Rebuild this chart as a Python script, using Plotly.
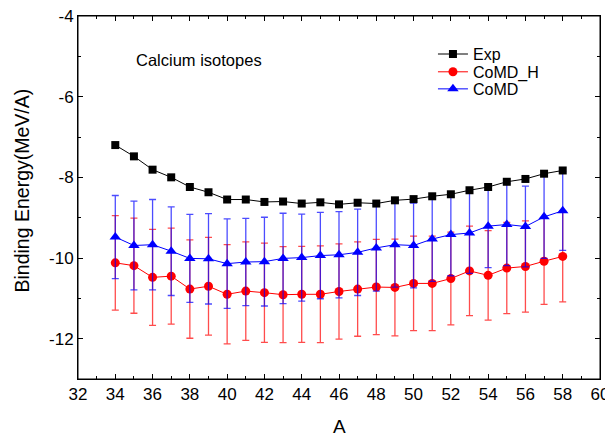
import plotly.graph_objects as go

A = list(range(34, 59))
exp_be = [-7.20, -7.48, -7.81, -8.00, -8.24, -8.37, -8.55, -8.55, -8.61, -8.60, -8.65, -8.62, -8.67,
          -8.63, -8.65, -8.57, -8.54, -8.47, -8.42, -8.32, -8.24, -8.11, -8.04, -7.91, -7.83]
comd_h_be = [-10.12, -10.19, -10.48, -10.45, -10.77, -10.70, -10.90, -10.82, -10.86, -10.91, -10.90, -10.90, -10.83,
             -10.77, -10.72, -10.73, -10.63, -10.63, -10.51, -10.32, -10.43, -10.25, -10.21, -10.08, -9.96]
comd_h_err = [1.17, 1.18, 1.19, 1.19, 1.22, 1.21, 1.23, 1.22, 1.23, 1.19, 1.19, 1.20, 1.18,
              1.17, 1.18, 1.20, 1.17, 1.17, 1.15, 1.11, 1.11, 1.13, 1.13, 1.07, 1.13]
comd_be = [-9.48, -9.69, -9.67, -9.83, -10.01, -10.02, -10.14, -10.10, -10.09, -10.01, -9.99, -9.94, -9.92,
           -9.86, -9.75, -9.67, -9.69, -9.53, -9.42, -9.38, -9.21, -9.17, -9.22, -8.98, -8.83]
comd_err = [1.03, 1.10, 1.12, 1.10, 1.09, 1.12, 1.11, 1.08, 1.10, 1.12, 1.08, 1.07, 1.07,
            1.07, 1.07, 1.05, 1.05, 1.05, 1.02, 1.00, 1.03, 1.02, 1.00, 1.03, 0.98]

x_ticks = list(range(32, 61, 2))
y_ticks = [-4, -6, -8, -10, -12]

FONT = "Arial, Liberation Sans, sans-serif"

fig = go.Figure()
fig.add_trace(go.Scatter(
    x=A, y=comd_h_be, name="CoMD_H", mode="lines+markers", legend="legend2",
    line=dict(color="red", width=1),
    marker=dict(symbol="circle", size=9, color="red"),
    error_y=dict(type="data", array=comd_h_err, color="rgba(255,0,0,0.7)", thickness=1.3, width=3.5),
))
fig.add_trace(go.Scatter(
    x=A, y=comd_be, name="CoMD", mode="lines+markers", legend="legend3",
    line=dict(color="blue", width=1),
    marker=dict(symbol="triangle-up", size=10, color="blue"),
    error_y=dict(type="data", array=comd_err, color="rgba(0,0,255,0.7)", thickness=1.3, width=3.5),
))
fig.add_trace(go.Scatter(
    x=A, y=exp_be, name="Exp", mode="lines+markers", legend="legend",
    line=dict(color="black", width=1),
    marker=dict(symbol="square", size=8, color="black"),
))

fig.add_annotation(x=35.0, y=-5.1, text="Calcium isotopes", showarrow=False,
                   xanchor="left", yanchor="middle", font=dict(size=16.5, color="black", family=FONT))

# axis titles placed as annotations relative to the plot area
fig.add_annotation(xref="paper", yref="paper", x=0, y=0.5, xshift=-57, yshift=7,
                   text="Binding Energy(MeV/A)", textangle=-90, showarrow=False,
                   xanchor="center", yanchor="middle",
                   font=dict(size=19.5, color="black", family=FONT))
fig.add_annotation(xref="paper", yref="paper", x=0.5, y=0, yshift=-47,
                   text="A", showarrow=False, xanchor="center", yanchor="middle",
                   font=dict(size=19, color="black", family=FONT))

# frame around the plot area
fig.add_shape(type="rect", xref="paper", yref="paper", x0=0, x1=1, y0=0, y1=1,
              line=dict(color="black", width=1), fillcolor="rgba(0,0,0,0)", layer="above")

axis_common = dict(
    showgrid=False, zeroline=False, showline=True, linecolor="black", linewidth=1,
    mirror="ticks", ticks="inside", ticklen=5, tickwidth=1, tickcolor="black",
    tickfont=dict(size=17, color="black", family=FONT), automargin=False,
    ticklabeloverflow="allow",
)
fig.update_xaxes(range=[32, 60], tickvals=x_ticks, ticktext=[str(v) for v in x_ticks],
                 minor=dict(dtick=1, ticks="inside", ticklen=3, tickcolor="black"),
                 **axis_common)
fig.update_yaxes(range=[-13, -4], tickvals=y_ticks, ticktext=[str(v) for v in y_ticks],
                 minor=dict(dtick=1, ticks="inside", ticklen=3, tickcolor="black"),
                 **axis_common)

leg_common = dict(x=0.68, xanchor="left", yanchor="middle", bgcolor="rgba(0,0,0,0)",
                  font=dict(size=16, family=FONT, color="black"), itemwidth=30)

# page body has an 8px margin, so the figure is sized/offset to compensate
fig.update_layout(
    width=605, height=428,
    margin=dict(l=70, r=13, t=8, b=57, autoexpand=False),
    paper_bgcolor="white", plot_bgcolor="white",
    font=dict(family=FONT, color="black"),
    legend=dict(y=0.895, **leg_common),
    legend2=dict(y=0.846, **leg_common),
    legend3=dict(y=0.799, **leg_common),
    showlegend=True,
)

fig.write_html("out.html")
